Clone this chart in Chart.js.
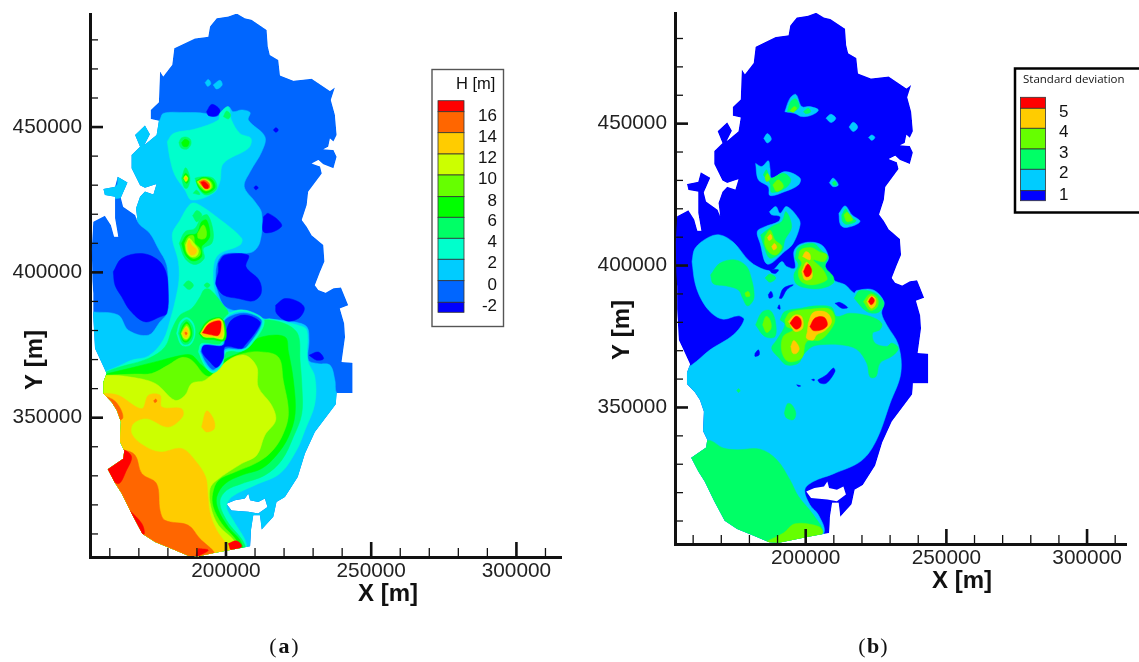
<!DOCTYPE html>
<html>
<head>
<meta charset="utf-8">
<title>Qatar head and standard deviation maps</title>
<script src="https://cdn.jsdelivr.net/npm/chart.js@4/dist/chart.umd.min.js"></script>
<style>
  html, body { margin: 0; padding: 0; background: #fff; width: 1139px; height: 662px; overflow: hidden; }
  canvas { position: absolute; top: 0; filter: blur(0.4px); }
  #mapA { left: 0; }
  #mapB { left: 570px; }
</style>
</head>
<body>
<canvas id="mapA" width="570" height="662"></canvas>
<canvas id="mapB" width="569" height="662"></canvas>
<script>
// all outlines below are x,y pairs in km
const xTicks = [160000, 170000, 180000, 190000, 200000, 210000, 220000, 230000, 240000, 250000, 260000, 270000, 280000, 290000, 300000, 310000];
const yTicks = [310000, 320000, 330000, 340000, 350000, 360000, 370000, 380000, 390000, 400000, 410000, 420000, 430000, 440000, 450000, 460000, 470000, 480000];
const xTickLabels = [200000, 250000, 300000];
const yTickLabels = [350000, 400000, 450000];

const hLabels = ['16', '14', '12', '10', '8', '6', '4', '2', '0', '-2'];
const sdLabels = ['5', '4', '3', '2', '1'];

const coast = [203.7,489.1, 206.5,487.4, 208.8,486.9, 214,483.4, 214.4,477.7, 215.1,474.8, 218,473.1, 218.6,467.7, 223.2,465.9, 229.5,466.6, 235.8,462.4, 237.5,463.6, 236.1,459.3, 237.5,454.2, 238.1,447.3, 237,445, 235.8,446.1, 235.2,443.2, 233.5,442.4, 237,442.1, 238.1,439.8, 237,435.8, 233.5,437.2, 231.8,438.7, 229.5,437.5, 232.4,436.4, 233,434, 228.3,427.7, 227.8,423.2, 226.1,418, 227.8,415.7, 229.5,412.8, 233.5,409.4, 233.9,403.7, 232.4,400.2, 230.6,395.6, 231.8,393.9, 234.3,393, 237,394.5, 239.6,394.8, 242.1,388.7, 239.2,387.6, 240.7,382.4, 241,377.8, 239.8,369.2, 243.5,368.9, 243.5,358.5, 238.1,358.5, 237.8,354.6, 230.6,345.1, 227.2,337.7, 224.7,329.6, 220.3,322.7, 217.4,321, 216.3,315.9, 212.3,311.5, 211.7,316.4, 209.4,316.4, 208.6,311.3, 208.3,305.8, 201.9,304.6, 196.2,303.5, 190.5,302.3, 187,302.5, 181.3,304.9, 175.6,307.2, 171.2,310.1, 167.5,317, 164.1,323.9, 161.8,327.5, 159.3,332.3, 164.6,335.9, 165,338.6, 163.5,341.7, 163.8,348.6, 162.4,352.6, 160.6,355.4, 157.8,358.3, 157.8,362.3, 158.9,365.2, 156,371.5, 154.9,373.8, 154.3,384.7, 154.3,392.7, 154,397.3, 153.8,408.2, 154.3,417.4, 158.3,419.5, 160.4,416.2, 161.5,412.3, 162.9,412.3, 161.8,418.6, 161.8,426, 158.3,426.6, 157.8,428.7, 161.8,429.5, 162.7,432.9, 166.1,430.9, 163.8,425.7, 164.6,422.6, 168.7,419.7, 169.6,417.4, 169,422, 170.4,426, 172.1,427.8, 175,426.8, 176.1,430.4, 172.1,429.1, 170.4,430, 167.5,435.8, 167.5,440.4, 170.4,443.2, 168.7,447.3, 172.1,450.5, 173.8,447.5, 171.9,443.8, 176.1,447.3, 176.9,452.2, 174.1,452.8, 174.1,455.9, 176.9,458.5, 177.3,469.1, 178.4,467.4, 181.5,471.4, 182.2,477.1, 189.3,480.5, 193.9,481.1, 194.5,484.6, 196.8,487.4, 200.8,488, 203.7,489.1];
const southBay = [200.2,320.4, 203.1,321.6, 206.5,322.2, 207.7,323.9, 208.3,321.6, 211.1,321, 213.4,322.2, 214.3,319.3, 211.1,317, 207.7,317.6, 201.9,318.1];

// panel a, head contours
const aCyan = [153,386.4, 154.3,386.4, 162.9,385.3, 166.4,380.1, 173.3,378.4, 177.3,383, 179.9,386.4, 180.1,393.9, 179.6,402.5, 176.7,408.2, 173.8,413.4, 169.6,417.4, 168.5,424, 167,436, 165,445, 172,452, 176.9,452.2, 178.4,454.7, 185.9,455, 192.8,454.7, 196.8,453.6, 200.8,457, 202.5,455.3, 205.4,455.9, 208.3,455, 207.7,452.4, 213.4,446.7, 212.3,441.5, 208.3,434.6, 206.3,429.5, 210,424.3, 212.3,420.3, 211.7,410.5, 208.8,406.9, 199.7,406.5, 197.1,403.6, 196.4,397.3, 197.3,392.8, 199.7,388.2, 205.4,386.2, 212.3,384.1, 215.2,383.9, 223.2,383, 227.8,381.3, 228.6,376.7, 228.4,369.8, 231.8,368.6, 235.8,368.1, 237.5,362.9, 238.1,358.5, 245,350, 235,310, 205,300, 153,300];
const aCyanPatch = [157.2,428.9, 162.4,430, 162.9,433.5, 166.9,431.2, 164.6,426, 157.2,426];
const aCyanSpot1 = [192.8,465.3, 193.9,466.4, 194.8,465, 193.7,464];
const aCyanSpot2 = [195.6,464.5, 197.9,466.1, 198.7,464.5, 196.8,463.1];
const aLow1 = [161.2,400.2, 164.1,404.8, 171,406.5, 176.7,404.2, 179.3,400.2, 180.1,393.9, 179.6,385.9, 177.3,384.7, 172.1,383, 166.9,387, 164.1,391.6, 161.8,395.6];
const aLow2 = [197.4,403.1, 199.6,405.9, 207.7,405.9, 206.9,401.9, 211.4,397.3, 212.1,392.8, 209.4,390.2, 204.3,391, 199.1,392.2, 196.6,395.6, 196.6,397.3, 197.4,400.2];
const aLow3 = [217.1,388.7, 220.3,391, 224.9,389.9, 227,387.6, 224.9,384.1, 220.9,383.3, 217.4,385.9];
const aLow4 = [228.6,371.5, 231.8,372.6, 233.6,370.3, 231.2,369.8];
const aLow5 = [212.9,419.1, 214.6,420.3, 219.2,416.3, 216.3,414, 212.9,414];
const aLow6 = [193.3,455.3, 195.1,457.8, 197.9,455.9, 196.8,453.9, 194.1,453.9];
const aLow7 = [216.3,449, 217.2,449.8, 218,449, 217.2,448.2];
const aLow8 = [209.6,429.1, 210.3,429.8, 211.1,429.1, 210.3,428.4];
const aTurqNorth = [179.8,445, 181.9,447.8, 189.3,449.3, 197.4,452.4, 197.9,454.7, 200.8,457, 201.9,452.4, 204.8,447.8, 208.6,446.1, 207.7,442.7, 199.1,437.5, 197.9,431.2, 195.6,427.2, 188.2,424.9, 185.9,428.3, 182.4,433.5, 180.7,439.2];
const aTurqMain = [153,364, 158.9,366.1, 162.9,367.7, 167.5,369.8, 173.3,371.2, 178.4,376.7, 181.1,384.7, 182.7,391, 183.8,397.3, 183.6,403.7, 181.5,412.8, 184.2,418, 187.6,423.4, 189.9,423.7, 197.4,418.6, 205.4,411.7, 204.8,409.4, 197.9,406.5, 196,403.7, 195.6,397.3, 196.8,391.6, 199.7,387, 212.3,383.6, 215.2,384, 224.9,381.8, 227.8,380.1, 228.1,369.8, 230.6,364.1, 230.6,354.9, 227.2,345.7, 224.3,338.8, 218.6,330.8, 210,326.8, 201.9,322.7, 200.2,319.3, 202.5,314.7, 207.1,306.1, 205,300, 153,300];
const aGreenMain = [153,362, 159,365.8, 162.9,367.3, 173.3,370.4, 179,374.4, 181.5,380.7, 184.2,385.3, 188.2,387.6, 191.1,391.6, 192.5,394.1, 194.5,394.1, 199.1,388.7, 200.8,385.9, 199.1,379, 199.1,373.2, 205.4,373.8, 207.7,375.5, 212.3,383, 215.2,383.6, 221.5,381.8, 224.9,378.4, 225.5,369.8, 226.1,361.8, 226.1,351.4, 223.2,343.4, 219.2,335.4, 213.4,330.2, 205.4,327.3, 200.2,325, 197.9,321, 200.2,314.7, 206.5,306.1, 205,300, 153,300];
const aPureMain = [153,363.4, 159.3,365.2, 166.4,366.9, 177.9,369.8, 184.7,371.5, 188.2,371.5, 191.6,368.1, 195.1,365.8, 199.1,369.8, 205.4,372.7, 207.7,375, 212.3,377.8, 220.3,377.8, 221.5,372.7, 223.2,362.9, 223.8,351.4, 221.5,343.4, 217.4,337.1, 212.3,332.5, 205.4,330.2, 199.7,327.3, 196.8,322.7, 197.4,318.2, 200.8,312.4, 205.4,306.7, 205,300, 153,300];
const aLimeMain = [153,364, 159.5,364.6, 168.7,365, 174.4,365.2, 180.1,368.1, 184.7,370.7, 188.2,369.8, 192.8,364.6, 195.6,364.4, 200.8,369.8, 205.4,371.9, 211.1,372.7, 218,370.9, 219.7,362.9, 221.5,351.4, 219.2,343.4, 215.1,337.7, 210,334.2, 203.1,331.3, 197.4,328.5, 195.4,323.9, 195.6,319.3, 198.5,313.6, 204.2,306.7, 205,300, 153,300];
const aYellowMain = [153,364, 158.9,364.6, 166.4,364.1, 175.6,361.8, 182.4,356, 185.9,357.7, 188.2,361.8, 192.8,362.9, 200.8,369.8, 206.5,371.5, 210.6,367.5, 211.1,360.6, 215.7,354.3, 217.1,349.1, 213.4,344, 210.6,337.1, 205.4,334.2, 196.8,328.5, 194.5,325.6, 194.8,319.3, 197.4,313, 203.1,307.2, 205,300, 153,300];
const aAmberMain = [153,358, 158.3,358.3, 162.9,357.7, 171,353.1, 173.3,357.7, 177.3,357.7, 177.9,353.7, 184.7,353.1, 185,350.3, 180.1,346.8, 172.7,349.7, 168.1,348, 167.5,344.5, 171.5,340.5, 177.3,338.2, 184.7,339.4, 189.3,335.4, 193,329.6, 193.7,323.9, 194.5,317, 196.8,311.3, 199.7,307.2, 200.8,305.5, 205,300, 153,300];
const aAmberIsland = [191.6,346.8, 193.3,352.3, 195.6,349.7, 196,346.3, 193.3,345.1];
const aOrangeMain = [153,338, 164.6,338.8, 168.7,337.1, 171,330.8, 176.1,327.3, 177.3,318.1, 179,314.7, 187,313, 191,308.4, 196.2,303.2, 195,300, 153,300];
const aOrangeWest = [157,358, 162,355.5, 164.5,350, 161,349];
const aOrangeDot = [175.1,355.8, 175.8,356.4, 176.2,355.7, 175.5,355.2];
const aRedWest = [160,340, 165.2,338.8, 167.5,336.5, 165.8,332, 162.9,327.3, 158.3,331.9];
const aRedCoast = [166.9,318.1, 171,313.6, 171.9,310.1, 170.4,310.1, 166.4,317];
const aRedBottom = [190.5,305, 193.9,304.4, 189.9,302.1, 189.3,301.5];
const aRedTip = [200.8,306.7, 203.7,307.6, 205.4,305.7, 201.9,304.4];

// peak near 410000
const aPeakGreen = [183.9,410, 185.9,414, 189.3,415.1, 191.6,419.1, 193.7,419.7, 195.6,414, 195.1,410, 192.2,408.2, 192.5,404.8, 189.3,402.7, 185.9,404.8];
const aPeakKnob = [188.5,419.5, 190,421.3, 191.7,419.7, 190,417.4];
const aPeakPure = [184.7,410, 186.5,412.8, 189.9,413.4, 191.6,417.4, 193.3,418, 194.5,412.8, 193.3,410.5, 191.6,408.8, 191.6,405.4, 188.7,403.9, 186.1,405.9];
const aPeakLimeR = [190.2,413.4, 192.2,416.3, 193.3,414, 192.8,411.7, 190.5,411.7];
const aPeakLimeL = [185.7,410, 187,412.3, 188.8,412.6, 189.3,410, 191,408.2, 191,405.9, 188.7,404.8, 186.5,406.5];
const aPeakYellow = [186.1,409.4, 187.3,411.7, 188.7,410.3, 190.5,407.7, 189.9,405.7, 188,405.4, 186.5,407.1];
const aPeakAmber = [186.7,409.4, 187.3,411.1, 188.2,409.4, 189.9,407.7, 189.3,406.2, 188,406, 187,407.3];

// peak near 430000
const aHotGreen = [189.3,432.4, 191.6,432.9, 195.6,432.4, 196.8,428.9, 193.3,426.6, 191,428.3];
const aHotPure = [189.7,431.4, 192.2,432.7, 195.3,431.8, 196.2,429.1, 193,427.2, 190.7,429.1];
const aHotLime = [189.9,431.2, 192.5,432.4, 194.8,431.2, 195.3,429.1, 193,428, 191,429.5];
const aHotYellow = [190.2,431.2, 192.5,432, 194.5,431, 194.8,429.1, 193,428.3, 191.3,429.8];
const aHotOrange = [190.7,431.2, 192.5,431.8, 194.2,430.6, 194.4,429.1, 193,428.7, 191.6,430];
const aHotRed = [191.4,431, 192.5,431.2, 193.9,430, 193.7,428.9, 192.5,429.1];
const aHotTail = [188.7,427.2, 189.9,428.3, 191,426.8];

const aDiaGreen = [184.7,432.4, 186.1,436, 187.6,432.4, 186.8,429.1, 185.7,429.1];
const aDiaPure = [185.1,432.4, 186.1,434.1, 187.3,432.4, 186.5,430.6];
const aDiaYellow = [185.4,432.4, 186.1,433.3, 186.9,432.4, 186.2,431.2];
const aDiaAmber = [185.8,432.4, 186.2,432.8, 186.6,432.2, 186.1,431.8];
const aRoundGreen = [183.8,444.6, 184.5,446.1, 186.1,446.6, 187.7,445.8, 187.9,444, 186.5,442.4, 184.5,442.9];
const aRoundPure = [184.7,444.6, 185.9,445.8, 187.3,445, 186.8,443.4, 185.3,443.4];
const aTopSpot = [199.1,453.6, 200.2,455.5, 201.6,454.2, 200.8,452.8];
const aMidSpot1 = [185.3,395.6, 187,397.1, 188.8,395.6, 187.3,394.1];
const aMidSpot2 = [192.4,395.6, 193.5,396.4, 194.5,395.6, 193.5,394.7];

// ringed peak near 380000
const aRingTurq = [183,379, 184.2,383, 186.5,384.5, 188.8,382.4, 189.3,378.4, 187.6,375, 184.7,375];
const aRingGreen = [183.6,379, 184.7,382.4, 186.5,383.8, 188.4,381.8, 188.8,378.4, 187.3,375.5, 185.1,375.5];
const aRingPure = [184.2,379, 185.1,381.6, 186.5,383, 187.8,381.3, 188.2,378.4, 186.8,376.1, 185.3,376.3];
const aRingLime = [184.5,379, 185.4,381, 186.5,382.2, 187.5,380.7, 187.7,378.4, 186.6,376.7, 185.4,376.9];
const aRingYellow = [184.7,379, 185.7,380.7, 186.5,381.5, 187.3,380.1, 187.4,378.4, 186.5,377.1, 185.5,377.4];
const aRingAmber = [185.1,379, 185.8,380.7, 186.5,380.9, 187,379, 186.5,377.6, 185.7,377.8];
const aRingDot = [185.8,379.2, 186.2,379.5, 186.6,379, 186.2,378.5];

// central depression
const aPitTurq = [190.5,372.7, 191.6,375.5, 198.3,375.5, 198.7,383, 203.1,386.8, 208.8,386.4, 213.2,383, 208.6,375, 205.4,372.9, 200.2,372.7, 198.7,368.1, 195.6,365.4, 192.8,367.7];
const aPitCyan = [191.1,372.7, 192.1,375, 198.7,375.3, 199.2,383, 203.3,386.1, 208.6,385.9, 212.5,383, 207.9,375.3, 205.2,373.5, 199.9,373.2, 198.3,368.6, 195.6,366.1, 193,368.4];
const aPitMid = [191.4,372.7, 192.3,374.6, 199,374.9, 199.4,383, 203.6,385.6, 208.4,385.6, 212.2,383, 207.2,374.6, 204.9,373.7, 199.7,373.7, 197.9,369.2, 195.6,366.6, 193.3,368.9];
const aPitLow = [199.7,379, 201.9,383.6, 206.5,385.3, 211.7,383, 210.6,380.1, 206.5,374.9, 205.4,373.8, 199.7,374.4, 199.1,370.4, 196.8,367.3, 194.5,369.2, 191.8,372.6, 192.5,374.9, 199.1,374.9];

// highest head, 380000
const aTopPure = [190.7,379, 193.3,383, 197.4,384.5, 199.4,383, 199.7,376.7, 195.1,376.9, 192.2,377.2];
const aTopYellow = [191.2,379, 193.7,382.6, 197.6,384.1, 199,382.6, 199,377.2, 195.6,377.6, 192.5,377.8];
const aTopAmber = [191.4,379, 193.9,382.6, 197.8,383.8, 198.7,382.4, 198.5,377.8, 195.6,378, 192.5,378];
const aTopRed = [191.9,379.2, 194.1,382.2, 197.9,383.3, 198.3,381.3, 197.4,378.4, 194.5,378.6];

// panel b, standard deviation contours
const bCyan = [159.6,401.4, 160.7,406.1, 165.4,409.9, 169.5,410.8, 174.3,408.2, 180.2,401.4, 185.5,398.5, 188.5,398.5, 191.5,401.4, 193.2,399.7, 196.2,399.1, 195.8,404.9, 198,407.5, 202.7,408.2, 206.3,406.7, 208.1,402.6, 206.9,399.7, 209.8,395, 214,393.2, 217.2,390.3, 218.1,391.2, 224,391.4, 227.8,387.3, 227,383.2, 228.8,379.1, 232.9,372.1, 233.8,362.1, 230,351.5, 225.2,338.6, 219.9,331.3, 209.8,326.6, 202.7,323.9, 199.7,321, 201.5,315.7, 204.5,312.2, 206.5,305.8, 200,300, 153,300, 153,362, 159.5,365, 166,370.3, 174.3,375.6, 178.1,380.9, 176.1,382.3, 170.7,381.1, 166.6,383.2, 163,387.9, 160.7,393.8];
const bSouthGreen = [153,335, 165.4,338.4, 170.7,335.7, 175.5,335.1, 183.8,335.3, 189.7,331.6, 194.4,324.5, 197.4,318.7, 202.7,312.2, 206,305.8, 200,300, 153,300];
const bSouthLime = [186.1,302.8, 192.1,305.8, 196.2,309, 204.5,308.1, 206,305.8, 200,300, 186,300];
const bHole1 = [182,369.1, 183.2,370.3, 183.5,368.6, 182,368];
const bHole2 = [186.7,389.7, 187.7,390.9, 188.3,389.1, 187.1,388.5];
const bHole3 = [190.6,388.5, 192.1,392, 195.6,393.2, 193.2,391.4, 191.5,388.5];
const bHole4 = [190,385, 190.6,386.2, 190.9,384.6];
const bHole5 = [210.4,386.7, 212.2,387, 214.9,385.2, 212.8,385];
const bHole6 = [204.3,359.7, 207.4,361.5, 209.8,363.9, 210.4,362.7, 207.4,358.6, 205.1,358.6];
const bHole7 = [196.8,358, 198.2,357.6, 197.4,357.4];
const bHole8 = [202.1,359.8, 203,360, 203,359.4];
const bHole9 = [187.1,398.5, 190.3,398.5, 189.4,397.3, 187.9,397.5];
const bWestGreen = [166.2,396.7, 169.5,400.8, 174.9,402, 179,399.7, 180.8,395, 181.6,390.9, 181.4,387.9, 179.3,385.8, 177.6,388.5, 176.1,391.4, 171.9,392.8, 167.2,393.6];
const bWestLime = [178.4,390.3, 179.6,390.9, 180.2,389.3, 178.8,389.1];
const bSpecks = [175.5,356, 176.1,356.6, 176.7,355.9, 176.1,355.3];
const bIsland = [192.4,348, 193.5,351.3, 195,351, 196.5,348, 195.6,345.7, 193.2,346.3];
const bSpot1 = [185.5,395.6, 187.3,397, 189.4,395.6, 187.3,394.1];
const bCoreGreen = [190.9,380.9, 192.6,383.8, 198.6,385, 203.9,385.8, 209.2,385.3, 211,382.1, 215.7,383.2, 222.8,382.1, 227,379.7, 226.4,377.4, 223.8,376.2, 224.6,372.7, 228.8,371.5, 230.6,372.7, 232.9,370.9, 230.9,368.2, 226.4,365.6, 225,360.9, 222.9,360.7, 221.7,365.6, 218.1,370.5, 212.2,372.1, 205.1,372.1, 202.1,371.3, 199.2,368.6, 197.4,365.6, 193.2,365, 190.3,367.7, 187.9,370.9, 189.7,373.8, 192.6,379.1];
const bCoreLime = [192.6,380.9, 194.4,383.5, 201.5,384.6, 208.6,384.6, 210.4,380.9, 208.4,376.8, 205.1,373.8, 200.3,373.2, 198.6,367.4, 193.8,366.2, 191.5,369.7, 192,375, 195.6,377.4, 193.2,378.5];
const bAmber1 = [193.8,380.3, 196.2,382.6, 198.6,382, 198.9,377.9, 196.2,376.8];
const bAmber2 = [200.9,379.7, 202.7,383.5, 207.4,383.5, 209.2,380.3, 206.9,377.1, 203.9,375.6, 202.7,373.8, 200.3,374.4, 200.6,376.8];
const bAmber3 = [194.7,371.5, 195.8,373.6, 197.7,370.9, 196.8,369.1, 195.4,369.1];
const bRed1 = [194.4,379.7, 196.5,382.1, 198.2,381.1, 198.2,378.5, 196.5,377.6];
const bRed2 = [201.5,378.5, 203.3,381.5, 206.5,381.8, 207.7,379.1, 205.7,377.4, 202.7,377.1];
const bWHotGreen = [182.2,379.1, 184.4,383.5, 187.3,384.2, 189.1,380.9, 189.1,375, 185.5,375];
const bWHotLime = [184.7,379.1, 185.9,382.1, 187.3,380.9, 187.7,377.9, 186.1,376.4];
const bEHotGreen = [217.2,388.5, 219.3,391.2, 224.6,390.3, 227.8,386.7, 225.8,383.5, 221.7,383.8];
const bEHotLime = [220.5,387.3, 222.9,390, 225.5,388.5, 225.5,385.6, 222.9,384.2];
const bEHotAmber = [221.7,387.3, 223.2,389.3, 224.9,388.2, 224.6,385.8, 223.2,385];
const bEHotRed = [222.3,387.3, 223.4,388.9, 224.4,387.9, 224,386.7, 223.2,386.2];
const bNHotGreen = [196.2,402.6, 197.4,406.3, 202.7,407.8, 205.7,405.2, 208,403.2, 206.9,399.7, 209.8,396.1, 209.8,393.8, 205.7,392, 200.9,392, 196.8,393.4, 195.8,396.7, 197.4,400.2];
const bNHotLime = [197.4,402.6, 198.2,405.5, 202.1,406.3, 205.1,404.7, 207.5,403.8, 206.5,401.4, 202.7,402, 205.7,399.1, 207.5,396.1, 207.5,394.9, 203.9,393.4, 200.3,393.4, 198,394.9, 197.4,397.9, 198.6,400.8];
const bNHotAmber1 = [198.9,403.2, 200,404.9, 201.5,404, 201.5,402];
const bNHotAmber2 = [198.6,397.9, 200.3,401.2, 202.1,398.5, 202.1,395.5, 199.7,395];
const bNHotRed = [199.2,397.9, 200.7,400.5, 202.1,398.5, 201.5,396.5, 200.1,396.1];
const bNorthCyan = [192.6,454.2, 194.4,458.9, 196.5,460.3, 198.6,456, 201.5,456, 204.5,454.8, 202.1,453, 198.6,452.5, 196.2,453.6];
const bNorthGreen1 = [193.5,454.2, 194.7,457.8, 196.5,458.7, 197.7,456, 196.2,454.5];
const bNorthGreen2 = [199.2,454.2, 200.9,455.4, 201.8,454.2, 200.1,453.5];
const bNorthLime = [194.4,454.5, 195.9,456, 196.8,455.4, 195.6,454];
const bDot1 = [207.2,451.9, 208.9,453.3, 210.7,451.9, 209,450.4];
const bDot2 = [215.4,448.8, 216.9,450.5, 218.5,448.8, 216.9,447.2];
const bDot3 = [222.3,445.1, 223.5,446, 224.6,445.1, 223.5,444.1];
const bDot4 = [185.1,444.8, 186.4,446.5, 187.8,444.6, 186.4,443.2];
const bMidCyan = [182.2,436, 184.4,434.9, 186.7,436.9, 187.3,434.3, 187.9,430.8, 192.7,433.1, 198,430.8, 197.4,428.4, 192.7,426.1, 187.3,424.7, 186.7,427.8, 183.2,430.2];
const bMidGreen = [184.9,431.9, 186.1,433.7, 187.5,430.8, 192.1,432.5, 194.7,430.2, 192.7,427.2, 187.9,425.8, 187.3,429];
const bMidLime1 = [185.5,431, 186.4,432.5, 187.3,430.5, 186.1,429.6];
const bMidLime2 = [188.3,428.4, 190.3,430.2, 192.1,427.8, 189.7,426.1];
const bDot5 = [208.4,429.2, 209.8,430.8, 211.6,428.4, 209.8,427.8];
const bDot5Green = [209.5,429.3, 210.4,429.8, 211,428.4, 209.8,428.4];
const bEastCyan = [211.8,418.4, 214,421, 216.4,417.9, 219.3,415.5, 214.6,413.4, 212.4,414.3];
const bEastGreen = [212.8,417.8, 214.3,420, 215.7,417.3, 217.9,415.7, 214.6,414.5, 213.1,415.5];
const bEastLime = [213.6,417.8, 214.8,418.8, 216.7,416.1, 214.6,415.5];
const bBigCyan = [187.1,419, 189.4,420.8, 190.9,418.4, 193.2,420.8, 197.4,416.7, 198,414.3, 195.6,407.9, 192.6,405, 186.4,400.5, 183.8,407.9, 182.8,412, 185.5,413.7, 190.3,415.5, 190.9,417.3, 187.9,417.9];
const bBigGreen = [184,410.8, 187.9,413.7, 191.5,415.5, 193,419, 195,413.7, 192.6,409, 191.5,405, 187.3,402.6, 185,407.3];
const bBigLime = [185.5,410.2, 187.3,412.5, 189.1,409, 191.5,406.7, 189.7,403.8, 187.3,404.4, 185.5,407.3];
const bBigAmber1 = [186.4,409.9, 187.5,411, 188,409.6, 187,408.8];
const bBigAmber2 = [187.9,406.7, 188.9,407.8, 189.7,406.4, 188.6,405.5];

const blue = '#0000ff', mid = '#0066ff', cyan = '#00ccff', turq = '#00ffcc', green = '#00ff66',
  pure = '#00ff00', lime = '#66ff00', yellow = '#ccff00', amber = '#ffcc00', orange = '#ff6600', red = '#ff0000';

const hColors = [red, orange, amber, yellow, lime, pure, green, turq, cyan, mid, blue];
const sdColors = [red, amber, lime, green, cyan, blue];

const layersA = [
  [mid, coast], [cyan, aCyan], [cyan, aCyanPatch], [cyan, aCyanSpot1], [cyan, aCyanSpot2],
  [blue, aLow1], [blue, aLow2], [blue, aLow3], [blue, aLow4], [blue, aLow5], [blue, aLow6], [blue, aLow7], [blue, aLow8],
  [turq, aTurqNorth], [turq, aTurqMain], [green, aGreenMain], [pure, aPureMain], [lime, aLimeMain], [yellow, aYellowMain],
  [amber, aAmberMain], [amber, aAmberIsland], [orange, aOrangeMain], [orange, aOrangeWest], [orange, aOrangeDot],
  [red, aRedWest], [red, aRedCoast], [red, aRedBottom], [red, aRedTip],
  [green, aPeakGreen], [green, aPeakKnob], [pure, aPeakPure], [lime, aPeakLimeR], [lime, aPeakLimeL], [yellow, aPeakYellow], [amber, aPeakAmber],
  [green, aHotTail], [green, aHotGreen], [pure, aHotPure], [lime, aHotLime], [yellow, aHotYellow], [orange, aHotOrange], [red, aHotRed],
  [green, aDiaGreen], [pure, aDiaPure], [yellow, aDiaYellow], [amber, aDiaAmber],
  [green, aRoundGreen], [pure, aRoundPure], [green, aTopSpot], [green, aMidSpot1], [green, aMidSpot2],
  [turq, aRingTurq], [green, aRingGreen], [pure, aRingPure], [lime, aRingLime], [yellow, aRingYellow], [amber, aRingAmber], [orange, aRingDot],
  [turq, aPitTurq], [cyan, aPitCyan], [mid, aPitMid], [blue, aPitLow],
  [pure, aTopPure], [yellow, aTopYellow], [amber, aTopAmber], [red, aTopRed]
];

const layersB = [
  [blue, coast], [cyan, bCyan], [green, bSouthGreen], [lime, bSouthLime],
  [blue, bHole1], [blue, bHole2], [blue, bHole3], [blue, bHole4], [blue, bHole5], [blue, bHole6], [blue, bHole7], [blue, bHole8], [blue, bHole9],
  [green, bWestGreen], [lime, bWestLime], [green, bSpecks], [green, bIsland], [green, bSpot1],
  [green, bCoreGreen], [lime, bCoreLime], [amber, bAmber1], [amber, bAmber2], [amber, bAmber3], [red, bRed1], [red, bRed2],
  [green, bWHotGreen], [lime, bWHotLime], [green, bEHotGreen], [lime, bEHotLime], [amber, bEHotAmber], [red, bEHotRed],
  [green, bNHotGreen], [lime, bNHotLime], [amber, bNHotAmber1], [amber, bNHotAmber2], [red, bNHotRed],
  [cyan, bNorthCyan], [green, bNorthGreen1], [green, bNorthGreen2], [lime, bNorthLime],
  [cyan, bDot1], [cyan, bDot2], [cyan, bDot3], [cyan, bDot4],
  [cyan, bMidCyan], [green, bMidGreen], [lime, bMidLime1], [lime, bMidLime2],
  [cyan, bDot5], [green, bDot5Green],
  [cyan, bEastCyan], [green, bEastGreen], [lime, bEastLime],
  [cyan, bBigCyan], [green, bBigGreen], [lime, bBigLime], [amber, bBigAmber1], [amber, bBigAmber2]
];

function toPoints(flat) {
  const pts = [];
  for (let i = 0; i < flat.length; i += 2) pts.push({ x: flat[i] * 1000, y: flat[i + 1] * 1000 });
  pts.push(pts[0]);
  return pts;
}

function tracePath(ctx, chart, flat) {
  toPoints(flat).forEach((p, i) => {
    const px = chart.scales.x.getPixelForValue(p.x);
    const py = chart.scales.y.getPixelForValue(p.y);
    if (i === 0) ctx.moveTo(px, py); else ctx.lineTo(px, py);
  });
  ctx.closePath();
}

// colours stay inside the coast, the bay in the south is left open
const coastClip = {
  id: 'coastClip',
  beforeDatasetsDraw(chart) {
    const ctx = chart.ctx;
    ctx.save();
    ctx.beginPath();
    tracePath(ctx, chart, coast);
    tracePath(ctx, chart, southBay);
    ctx.clip('evenodd');
  },
  afterDatasetsDraw(chart) {
    chart.ctx.restore();
  }
};

// inward ticks and the text around the plot
const decorations = {
  id: 'decorations',
  afterDraw(chart) {
    const o = chart.options.plugins.decorations;
    const ctx = chart.ctx;
    const area = chart.chartArea;
    ctx.save();
    ctx.strokeStyle = '#111';
    chart.scales.x.ticks.forEach(t => {
      const major = t.value % 50000 === 0;
      const px = chart.scales.x.getPixelForValue(t.value);
      ctx.lineWidth = major ? 2.6 : 1.3;
      ctx.beginPath();
      ctx.moveTo(px, area.bottom);
      ctx.lineTo(px, area.bottom - (major ? 15 : 9));
      ctx.stroke();
    });
    chart.scales.y.ticks.forEach(t => {
      const major = t.value % 50000 === 0;
      const py = chart.scales.y.getPixelForValue(t.value);
      ctx.lineWidth = major ? 2.6 : 1.3;
      ctx.beginPath();
      ctx.moveTo(area.left, py);
      ctx.lineTo(area.left + (major ? 13 : 8), py);
      ctx.stroke();
    });

    ctx.fillStyle = '#111';
    ctx.textAlign = 'center';
    ctx.textBaseline = 'middle';
    ctx.font = 'bold 24px "Liberation Sans"';
    ctx.fillText('X [m]', o.xTitle[0], o.xTitle[1]);
    ctx.save();
    ctx.translate(o.yTitle[0], o.yTitle[1]);
    ctx.rotate(-Math.PI / 2);
    ctx.fillText('Y [m]', 0, 0);
    ctx.restore();
    ctx.font = '22px "Liberation Serif"';
    ctx.fillText('(', o.panel[0] - 11, o.panel[1]);
    ctx.fillText(')', o.panel[0] + 11, o.panel[1]);
    ctx.font = 'bold 22px "Liberation Serif"';
    ctx.fillText(o.panelLetter, o.panel[0], o.panel[1]);

    const leg = o.legend;
    ctx.strokeStyle = leg.border;
    ctx.lineWidth = leg.borderWidth;
    ctx.strokeRect(leg.box[0], leg.box[1], leg.box[2], leg.box[3]);
    leg.colors.forEach((c, i) => {
      ctx.fillStyle = c;
      ctx.fillRect(leg.swatchX, leg.edges[i], leg.swatchW, leg.edges[i + 1] - leg.edges[i]);
      ctx.strokeStyle = '#333';
      ctx.lineWidth = 0.8;
      ctx.strokeRect(leg.swatchX, leg.edges[i], leg.swatchW, leg.edges[i + 1] - leg.edges[i]);
    });
    ctx.fillStyle = '#111';
    ctx.font = leg.font;
    ctx.textAlign = leg.align;
    leg.labels.forEach((t, i) => ctx.fillText(t, leg.labelX, leg.edges[i + 1] + 4.5));
    ctx.font = leg.titleFont;
    ctx.textAlign = 'left';
    ctx.fillText(leg.title, leg.titleAt[0], leg.titleAt[1]);
    ctx.restore();
  }
};

function makeMap(id, layers, o) {
  const labelFont = { family: '"Liberation Sans"', size: 20.8 };
  new Chart(document.getElementById(id), {
    type: 'scatter',
    data: {
      datasets: layers.map(([color, flat]) => ({
        data: toPoints(flat),
        showLine: true,
        fill: 'shape',
        backgroundColor: color,
        borderColor: color,
        borderWidth: 0.5,
        pointRadius: 0,
        tension: flat === coast ? 0 : 0.35
      })).reverse()
    },
    plugins: [coastClip, decorations],
    options: {
      responsive: false,
      animation: false,
      layout: { padding: { top: o.top, right: o.right, left: 0, bottom: 0 } },
      plugins: { legend: { display: false }, tooltip: { enabled: false }, decorations: o },
      scales: {
        x: {
          type: 'linear', min: o.xRange[0], max: o.xRange[1],
          afterBuildTicks(s) { s.ticks = xTicks.map(value => ({ value })); },
          afterFit(s) { s.height = o.bottomSpace; s.paddingLeft = 0; s.paddingRight = 0; },
          border: { color: '#111', width: 3 },
          grid: { drawOnChartArea: false, drawTicks: false },
          ticks: {
            autoSkip: false, maxRotation: 0, padding: 2,
            color: '#222', font: labelFont,
            callback: v => xTickLabels.includes(v) ? String(v) : ''
          }
        },
        y: {
          type: 'linear', min: o.yRange[0], max: o.yRange[1],
          afterBuildTicks(s) { s.ticks = yTicks.map(value => ({ value })); },
          afterFit(s) { s.width = o.left; s.paddingTop = 0; s.paddingBottom = 0; },
          border: { color: '#111', width: 3 },
          grid: { drawOnChartArea: false, drawTicks: false },
          ticks: {
            autoSkip: false, padding: 8,
            color: '#222', font: labelFont,
            callback: v => yTickLabels.includes(v) ? String(v) : ''
          }
        }
      }
    }
  });
}

makeMap('mapA', layersA, {
  left: 90, top: 14, right: 9, bottomSpace: 105,
  xRange: [153180, 315350], yRange: [302070, 488900],
  xTitle: [388, 594], yTitle: [35, 360], panel: [284, 647], panelLetter: 'a',
  legend: {
    box: [432, 69.5, 71.5, 257], border: '#555', borderWidth: 1.4,
    swatchX: 438, swatchW: 26,
    edges: [100.7, 111.7, 132.7, 154, 175, 196.7, 217.3, 238.3, 259.3, 280.7, 302.3, 312.3],
    colors: hColors, labels: hLabels, labelX: 497, align: 'right', font: '17px "Liberation Sans"',
    title: 'H [m]', titleAt: [456, 84], titleFont: '16.5px "Liberation Sans"'
  }
});

makeMap('mapB', layersB, {
  left: 105, top: 13, right: 13, bottomSpace: 118,
  xRange: [153550, 313840], yRange: [301900, 488980],
  xTitle: [392, 581], yTitle: [52, 330], panel: [303, 647], panelLetter: 'b',
  legend: {
    box: [445, 68.5, 130, 144], border: '#000', borderWidth: 2.5,
    swatchX: 450.5, swatchW: 25,
    edges: [97.3, 108.3, 128.3, 149, 169.3, 190.7, 200.7],
    colors: sdColors, labels: sdLabels, labelX: 489, align: 'left', font: '17px "Liberation Sans"',
    title: 'Standard deviation', titleAt: [453, 80], titleFont: '11.5px "Open Sans"'
  }
});
</script>
</body>
</html>
